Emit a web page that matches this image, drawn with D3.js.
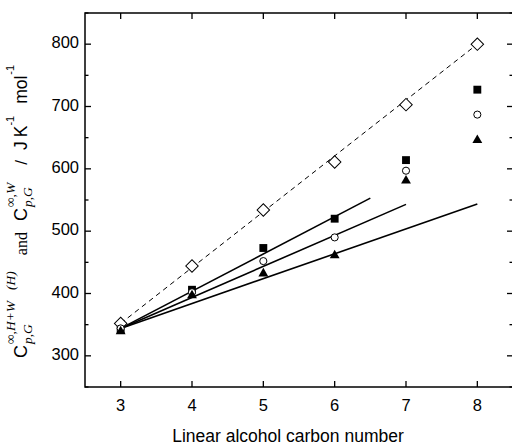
<!DOCTYPE html>
<html lang="en">
<head>
<meta charset="UTF-8">
<title>Heat capacity vs carbon number</title>
<script src="https://d3js.org/d3.v7.min.js"></script>
<style>
  body { margin: 0; background: #fff; }
  svg { display: block; }
  .sans { font-family: "Liberation Sans", Arial, sans-serif; }
  .serif { font-family: "Liberation Serif", "Times New Roman", serif; }
</style>
</head>
<body>
<svg width="512" height="446"></svg>
<script>
// data
const carbons = [3, 4, 5, 6, 7, 8];
const cpWater = [352, 444, 534, 611, 703, 800];     // open diamonds
const cpSquares = [342, 406, 473, 520, 614, 727];   // filled squares
const cpCircles = [344, 402, 452, 490, 597, 687];   // open circles
const cpTriangles = [339, 397, 432, 461, 581, 646]; // filled triangles

// straight fits: [x start, y start, x end, y end]
const fitSquares = [3, 344, 6.5, 553];
const fitCircles = [3, 344, 7, 543];
const fitTriangles = [3, 344, 8, 543.5];
const fitWater = [3, 352, 8, 800];

const xTicks = [3, 4, 5, 6, 7, 8];
const yTicks = [300, 400, 500, 600, 700, 800];
const yMinor = [250, 350, 450, 550, 650, 750, 850];

const svg = d3.select("svg");
const pL = 85, pR = 513, pT = 13, pB = 387;

const x = d3.scaleLinear().domain([2.5, 8.5]).range([pL, pR]);
const y = d3.scaleLinear().domain([250, 850]).range([pB, pT]);

// ticks (all pointing inward)
const tk = svg.append("g").attr("stroke", "#000").attr("stroke-width", 1.3);
xTicks.forEach(v => {
    tk.append("line").attr("x1", x(v)).attr("x2", x(v)).attr("y1", pB).attr("y2", pB - 6);
    tk.append("line").attr("x1", x(v)).attr("x2", x(v)).attr("y1", pT).attr("y2", pT + 6);
});
yTicks.forEach(v => {
    tk.append("line").attr("x1", pL).attr("x2", pL + 6).attr("y1", y(v)).attr("y2", y(v));
    tk.append("line").attr("x1", pR).attr("x2", pR - 6).attr("y1", y(v)).attr("y2", y(v));
});
yMinor.forEach(v => {
    tk.append("line").attr("x1", pL).attr("x2", pL + 3.5).attr("y1", y(v)).attr("y2", y(v));
    tk.append("line").attr("x1", pR).attr("x2", pR - 3.5).attr("y1", y(v)).attr("y2", y(v));
});

// frame
svg.append("rect")
    .attr("x", pL).attr("y", pT)
    .attr("width", pR - pL).attr("height", pB - pT)
    .attr("fill", "none").attr("stroke", "#000").attr("stroke-width", 1.5);

// tick labels
svg.selectAll(".xl").data(xTicks).enter().append("text")
    .attr("class", "sans")
    .attr("x", d => x(d)).attr("y", 411)
    .attr("text-anchor", "middle")
    .style("font-size", "16.5px")
    .text(d => d);

svg.selectAll(".yl").data(yTicks).enter().append("text")
    .attr("class", "sans")
    .attr("x", 79).attr("y", d => y(d) + 4)
    .attr("text-anchor", "end")
    .style("font-size", "16.5px")
    .text(d => d);

// axis title
svg.append("text")
    .attr("class", "sans")
    .attr("x", 288).attr("y", 442)
    .attr("text-anchor", "middle")
    .style("font-size", "17.5px")
    .text("Linear alcohol carbon number");

// fit lines
function fitLine(f, dashed) {
    svg.append("line")
        .attr("x1", x(f[0])).attr("y1", y(f[1]))
        .attr("x2", x(f[2])).attr("y2", y(f[3]))
        .attr("stroke", "#000")
        .attr("stroke-width", dashed ? 1 : 1.6)
        .attr("stroke-dasharray", dashed ? "5,4" : null);
}
fitLine(fitWater, true);
fitLine(fitSquares, false);
fitLine(fitCircles, false);
fitLine(fitTriangles, false);

// markers
function markers(values, type, size, filled, rot) {
    svg.append("g").selectAll("path").data(values).enter().append("path")
        .attr("d", d3.symbol().type(type).size(size))
        .attr("transform", (d, i) => `translate(${x(carbons[i])},${y(d)}) rotate(${rot || 0})`)
        .attr("fill", filled ? "#000" : "#fff")
        .attr("stroke", "#000")
        .attr("stroke-width", filled ? 0 : 1);
}
markers(cpWater, d3.symbolSquare, 78, false, 45);
markers(cpSquares, d3.symbolSquare, 62, true);
markers(cpCircles, d3.symbolCircle, 40, false);
markers(cpTriangles, d3.symbolTriangle, 42, true);

// rotated y title built piece by piece
const yt = svg.append("g").attr("transform", "translate(27,358) rotate(-90)");
let pos = 0;
function put(txt, cls, size, dy, italic) {
    const t = yt.append("text")
        .attr("class", cls)
        .attr("x", pos).attr("y", dy)
        .style("font-size", size + "px")
        .style("font-style", italic ? "italic" : "normal")
        .text(txt);
    return t.node().getComputedTextLength();
}
function step(txt, cls, size, dy, italic, gap) {
    pos += put(txt, cls, size, dy, italic) + (gap || 0);
}
function stack(sub, sup, gap) {
    const w1 = put(sub, "serif", 13.5, 5, true);
    const w2 = put(sup, "serif", 13.5, -12, true);
    pos += Math.max(w1, w2) + (gap || 0);
}
step("C", "sans", 18, 0, false, 1);
stack("p,G", "\u221E,H+W", 11);
step("(H)", "serif", 13.5, -12, true, 16);
step("and", "serif", 16, 0, false, 11);
step("C", "sans", 18, 0, false, 1);
stack("p,G", "\u221E,W", 18);
step("/", "sans", 17, 0, false, 10);
step("J", "sans", 17.5, 0, false, 4);
step("K", "sans", 17.5, 0, false, 0);
step("-1", "sans", 11, -13, false, 12);
step("mol", "sans", 17.5, 0, false, 1);
step("-1", "sans", 11, -13, false, 0);
</script>
</body>
</html>
